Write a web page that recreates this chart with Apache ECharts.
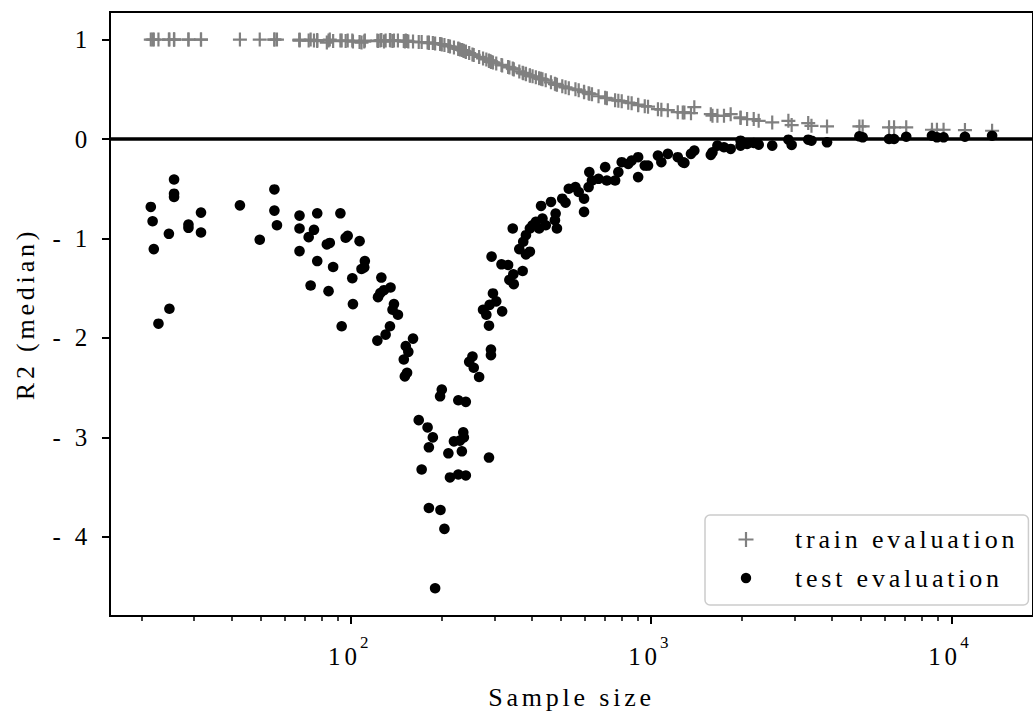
<!DOCTYPE html>
<html>
<head>
<meta charset="utf-8">
<script src="https://cdn.jsdelivr.net/npm/echarts@6/dist/echarts.min.js"></script>
<style>
html,body{margin:0;padding:0;background:#fff;}
#main{width:1033px;height:715px;}
#main text{letter-spacing:3.8px;}
</style>
</head>
<body>
<div id="main"></div>
<script>
// ---- data ----
const sampleSizes = [21.5,21.8,22.0,22.8,24.7,24.8,25.7,25.7,25.7,28.7,28.7,31.6,31.6,42.6,49.6,55.5,55.5,56.6,67.3,67.3,67.3,72.2,73.3,75.2,77.1,77.1,83.0,84.1,84.9,87.1,92.1,93.0,95.9,97.4,100.9,101.4,106.7,108.3,110.6,111.1,122.3,122.9,125.1,126.1,128.7,130.3,134.7,135.3,137.4,138.9,143.2,149.8,151.0,152.1,153.6,155.1,160.8,168.0,171.8,179.8,181.6,181.6,187.2,190.5,197.9,198.5,200.5,204.6,210.9,213.5,220.1,227.6,227.6,230.4,233.9,236.4,237.5,241.1,241.1,247.4,253.7,256.2,267.0,275.2,282.2,288.0,288.0,289.4,292.4,292.4,293.8,296.9,304.5,317.0,318.6,333.5,336.8,345.6,347.2,348.3,363.4,372.9,374.6,382.4,382.4,394.2,394.2,402.4,412.6,423.1,429.5,434.1,445.2,463.4,477.7,480.3,485.1,505.4,518.2,531.4,559.1,573.3,597.3,597.3,618.6,621.9,634.8,667.5,702.4,711.5,757.9,777.1,797.6,838.5,860.6,904.6,904.6,951.8,975.9,1053,1081,1136,1226,1274,1290,1357,1392,1580,1600,1662,1748,1840,1985,1985,2087,2196,2281,2531,2865,2938,3336,3420,3854,4940,5066,6203,6446,7077,8623,8957,9425,11105,13677];

const trainR2 = [1.0,1.0,1.0,1.0,1.0,1.0,1.0,1.0,1.0,1.0,1.0,1.0,1.0,1.0,1.0,1.0,1.0,1.0,1.0,0.995,0.99,0.99,1.0,0.99,0.995,0.985,0.97,0.99,1.0,0.985,0.99,0.99,0.985,0.99,0.99,0.98,0.975,0.97,0.98,0.99,0.99,0.985,0.99,0.995,0.98,0.99,0.995,0.99,0.985,0.99,0.99,0.985,0.98,0.99,0.985,0.98,0.98,0.975,0.975,0.97,0.97,0.965,0.965,0.96,0.955,0.955,0.95,0.945,0.935,0.93,0.92,0.905,0.91,0.9,0.895,0.89,0.885,0.875,0.88,0.865,0.85,0.845,0.825,0.81,0.8,0.79,0.785,0.785,0.78,0.775,0.775,0.77,0.76,0.745,0.74,0.725,0.72,0.71,0.705,0.7,0.68,0.665,0.66,0.65,0.655,0.64,0.635,0.63,0.62,0.61,0.605,0.6,0.59,0.57,0.555,0.55,0.545,0.53,0.52,0.51,0.5,0.49,0.47,0.475,0.46,0.455,0.45,0.43,0.415,0.41,0.39,0.385,0.38,0.365,0.36,0.345,0.34,0.33,0.325,0.3,0.295,0.29,0.27,0.267,0.267,0.26,0.32,0.25,0.235,0.233,0.233,0.25,0.217,0.21,0.2,0.2,0.183,0.167,0.183,0.14,0.16,0.133,0.127,0.127,0.127,0.117,0.117,0.117,0.093,0.093,0.093,0.09,0.083];

const testR2 = [-0.683,-0.827,-1.107,-1.857,-0.953,-1.707,-0.407,-0.55,-0.583,-0.86,-0.893,-0.74,-0.94,-0.667,-1.013,-0.507,-0.72,-0.867,-0.77,-0.9,-1.127,-0.987,-1.473,-0.913,-0.747,-1.227,-1.06,-1.53,-1.045,-1.287,-0.747,-1.883,-0.993,-0.973,-1.4,-1.66,-1.027,-1.307,-1.29,-1.227,-2.027,-1.59,-1.55,-1.393,-1.52,-1.967,-1.883,-1.493,-1.717,-1.66,-1.767,-2.217,-2.387,-2.083,-2.35,-2.14,-2.007,-2.827,-3.323,-2.9,-3.1,-3.71,-3.0,-4.517,-2.587,-3.73,-2.52,-3.92,-3.16,-3.403,-3.04,-2.627,-3.373,-3.033,-3.14,-2.95,-3.0,-2.643,-3.383,-2.24,-2.187,-2.3,-2.393,-1.717,-1.767,-1.877,-3.203,-1.667,-2.117,-2.173,-1.183,-1.553,-1.633,-1.26,-1.733,-1.267,-1.417,-0.9,-1.36,-1.46,-1.107,-1.327,-1.033,-1.16,-0.967,-1.133,-0.9,-0.867,-0.833,-0.9,-0.673,-0.8,-0.867,-0.633,-0.817,-0.75,-0.9,-0.6,-0.64,-0.5,-0.483,-0.533,-0.6,-0.733,-0.483,-0.333,-0.417,-0.4,-0.283,-0.417,-0.417,-0.333,-0.233,-0.25,-0.217,-0.183,-0.383,-0.267,-0.267,-0.167,-0.233,-0.15,-0.183,-0.233,-0.24,-0.15,-0.117,-0.16,-0.133,-0.067,-0.083,-0.1,-0.017,-0.067,-0.05,-0.04,-0.057,-0.067,-0.007,-0.06,-0.007,-0.017,-0.033,0.027,0.017,0.0,0.0,0.023,0.033,0.017,0.017,0.023,0.033];

const seriesNames = ['train evaluation', 'test evaluation'];
const xAxisName = 'Sample size';
const yAxisName = 'R2 (median)';
const xMajorTicks = [100, 1000, 10000];
const xMinorTicks = [20,30,40,50,60,70,80,90,200,300,400,500,600,700,800,900,2000,3000,4000,5000,6000,7000,8000,9000];
const yTicks = [-4,-3,-2,-1,0,1];
const xRange = [15.72, 18720];
const yRange = [-4.796, 1.277];

// ---- chart ----
const FONT = "'Liberation Serif', serif";
const PLUS = 'path://M0,5.9H14V8.1H0Z M5.9,0H8.1V14H5.9Z';
const PLUS_LEG = 'path://M0,0L0,0M20,20L20,20M2.5,8.9H17.5V11.1H2.5Z M8.9,2.5H11.1V17.5H8.9Z';
const DOT_LEG = 'path://M0,0L0,0M20,20L20,20M15.2,10A5.2,5.2 0 1 1 4.8,10A5.2,5.2 0 1 1 15.2,10Z';

const chart = echarts.init(document.getElementById('main'), null, {renderer: 'svg'});
const option = {
  animation: false,
  backgroundColor: '#fff',
  grid: {left: 110, top: 12, right: -9, bottom: 95.4, show: true, borderColor: '#000', borderWidth: 2, backgroundColor: 'transparent'},
  xAxis: [{
    type: 'log', logBase: 10, min: xRange[0], max: xRange[1], position: 'bottom',
    name: xAxisName, nameLocation: 'middle', nameGap: 68,
    nameTextStyle: {fontFamily: FONT, fontSize: 26, color: '#000'},
    axisLine: {show: true, onZero: false, lineStyle: {color: '#000', width: 2}},
    axisTick: {show: true, length: 8, customValues: xMajorTicks, lineStyle: {color: '#000', width: 2}},
    axisLabel: {
      customValues: xMajorTicks, margin: 18,
      formatter: v => '{b|10}{s|' + Math.round(Math.log10(v)) + '}',
      rich: {
        b: {fontFamily: FONT, fontSize: 25, color: '#000', lineHeight: 25, verticalAlign: 'bottom'},
        s: {fontFamily: FONT, fontSize: 17, color: '#000', verticalAlign: 'top', padding: [0, 0, 18, 5]}
      }
    },
    splitLine: {show: false}, minorTick: {show: false}
  }, {
    type: 'log', logBase: 10, min: xRange[0], max: xRange[1], position: 'bottom',
    axisLine: {show: false, onZero: false},
    axisTick: {show: true, length: 5, customValues: xMinorTicks, lineStyle: {color: '#000', width: 1.5}},
    axisLabel: {show: false}, splitLine: {show: false}
  }],
  yAxis: {
    type: 'value', min: yRange[0], max: yRange[1],
    name: yAxisName, nameLocation: 'middle', nameGap: 72, nameRotate: 90,
    nameTextStyle: {fontFamily: FONT, fontSize: 26, color: '#000'},
    axisLine: {show: true, onZero: false, lineStyle: {color: '#000', width: 2}},
    axisTick: {show: true, length: 8, customValues: yTicks, lineStyle: {color: '#000', width: 2}},
    axisLabel: {customValues: yTicks, margin: 19, fontFamily: FONT, fontSize: 25, color: '#000',
      formatter: v => v < 0 ? '- ' + (-v) : String(v)},
    splitLine: {show: false}
  },
  legend: {
    orient: 'vertical', left: 705, top: 515,
    padding: [11.5, 71, 14, 31], itemGap: 12.5, itemWidth: 20, itemHeight: 20,
    backgroundColor: '#fff', borderColor: '#cccccc', borderWidth: 1.5, borderRadius: 5,
    selectedMode: false,
    formatter: name => '{a|' + name + '}',
    textStyle: {fontFamily: FONT, fontSize: 26, color: '#000',
      rich: {a: {fontFamily: FONT, fontSize: 26, color: '#000', lineHeight: 26, padding: [0, 0, 0, 34]}}},
    data: [{name: seriesNames[0], icon: PLUS_LEG}, {name: seriesNames[1], icon: DOT_LEG}]
  },
  series: [{
    name: seriesNames[0], type: 'scatter', xAxisIndex: 0, symbol: PLUS, symbolSize: 14,
    itemStyle: {color: '#808080', opacity: 1}, z: 2,
    data: sampleSizes.map((n, i) => [n, trainR2[i]])
  }, {
    name: seriesNames[1], type: 'scatter', xAxisIndex: 0, symbol: 'circle', symbolSize: 10.6,
    itemStyle: {color: '#000', opacity: 1}, z: 3,
    data: sampleSizes.map((n, i) => [n, testR2[i]]),
    markLine: {silent: true, symbol: ['none', 'none'], label: {show: false},
      lineStyle: {color: '#000', width: 3.6, type: 'solid', opacity: 1}, data: [{yAxis: 0}]}
  }]
};
chart.setOption(option);
</script>
</body>
</html>
